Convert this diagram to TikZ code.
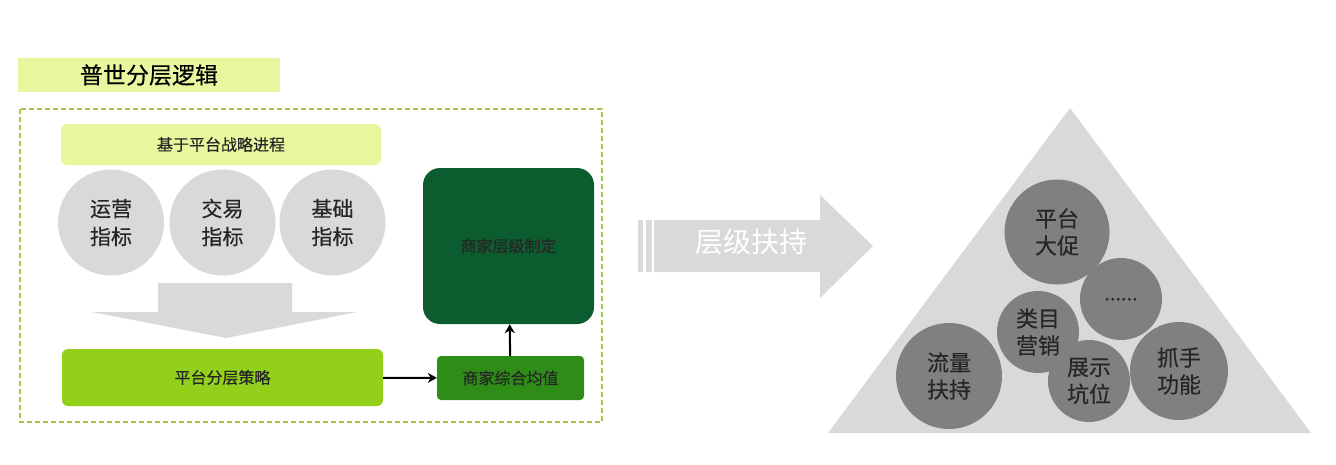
\documentclass[tikz,border=0pt]{standalone}
\usepackage{fontspec}
\setmainfont{Noto Sans CJK SC}[FakeBold=0.4]
\newfontfamily\lightcjk{Noto Sans CJK SC}
\usetikzlibrary{arrows.meta}

\definecolor{LimeLight}{HTML}{E6F79D}
\definecolor{FrameGreen}{HTML}{A6C64A}
\definecolor{LimeBright}{HTML}{92D01B}
\definecolor{LeafGreen}{HTML}{2E8D17}
\definecolor{ForestDark}{HTML}{0B5C2E}
\definecolor{PaleGray}{HTML}{D9D9D9}
\definecolor{MidGray}{HTML}{808080}

\begin{document}
\begin{tikzpicture}[x=1pt, y=-1pt,
    bar/.style={rectangle, fill=LimeLight, inner sep=0pt},
    metric/.style={circle, fill=PaleGray, minimum size=106pt, inner sep=0pt,
      align=center, text=black!85, font=\fontsize{21}{28}\selectfont},
    support/.style={circle, fill=MidGray, inner sep=0pt,
      align=center, text=black!85, font=\fontsize{22}{27}\selectfont},
    label16/.style={font=\fontsize{16}{16}\selectfont, text=black!85},
    link/.style={-{Stealth[length=9pt, width=10pt]}, line width=2pt}]
  \useasboundingbox (0,0) rectangle (1336,464);

  % left panel
  \node (title) [bar, minimum width=262pt, minimum height=34pt,
    font=\fontsize{23}{23}\selectfont] at (149,75) {普世分层逻辑};
  \draw [FrameGreen, line width=1.5pt, dash pattern=on 5pt off 3pt]
    (20,109) rectangle (602,422);

  \node (base) [bar, label16, rounded corners=6pt, minimum width=320pt,
    minimum height=41pt] at (221,144.5) {基于平台战略进程};

  \node (ops) [metric] at (111,222.5) {运营\\指标};
  \node (trade) [metric] at (222.5,222.5) {交易\\指标};
  \node (basic) [metric] at (332.5,222.5) {基础\\指标};

  \fill [PaleGray] (158,283) -- (292,283) -- (292,312) -- (357,312)
    -- (226,338) -- (92,312) -- (158,312) -- cycle;

  \node (strategy) [rectangle, fill=LimeBright, label16, rounded corners=6pt,
    minimum width=321pt, minimum height=57pt, inner sep=0pt]
    at (222.5,377.5) {平台分层策略};
  \node (mean) [rectangle, fill=LeafGreen, label16, rounded corners=4pt,
    minimum width=147pt, minimum height=44pt, inner sep=0pt]
    at (510.5,378) {商家综合均值};
  \node (grade) [rectangle, fill=ForestDark, label16, rounded corners=17pt,
    minimum width=171pt, minimum height=156pt, inner sep=0pt]
    at (508.5,246) {商家层级制定};

  \draw [link] (strategy) -- (mean);
  \draw [link] (mean) -- (grade);

  % big arrow
  \fill [PaleGray] (638,220) rectangle (643,272);
  \fill [PaleGray] (646,220) rectangle (652,272);
  \fill [PaleGray] (654,220) -- (820,220) -- (820,195) -- (873,246)
    -- (820,298) -- (820,272) -- (654,272) -- cycle;
  \node (push) [text=white, font=\lightcjk\fontsize{28}{28}\selectfont]
    at (751,242) {层级扶持};

  % pyramid
  \fill [PaleGray] (1070,108) -- (1311,433) -- (828,433) -- cycle;
  \node (promo) [support, minimum size=105pt] at (1057,232) {平台\\大促};
  \node (more) [support, minimum size=82pt, font=\fontsize{20}{20}\selectfont]
    at (1121,299) {\raisebox{-3pt}{......}};
  \node (category) [support, minimum size=82pt] at (1038,332) {类目\\营销};
  \node (slot) [support, minimum size=82pt] at (1089,381) {展示\\坑位};
  \node (traffic) [support, minimum size=106pt] at (949,376) {流量\\扶持};
  \node (tools) [support, minimum size=98pt] at (1179,371) {抓手\\功能};
\end{tikzpicture}
\end{document}
